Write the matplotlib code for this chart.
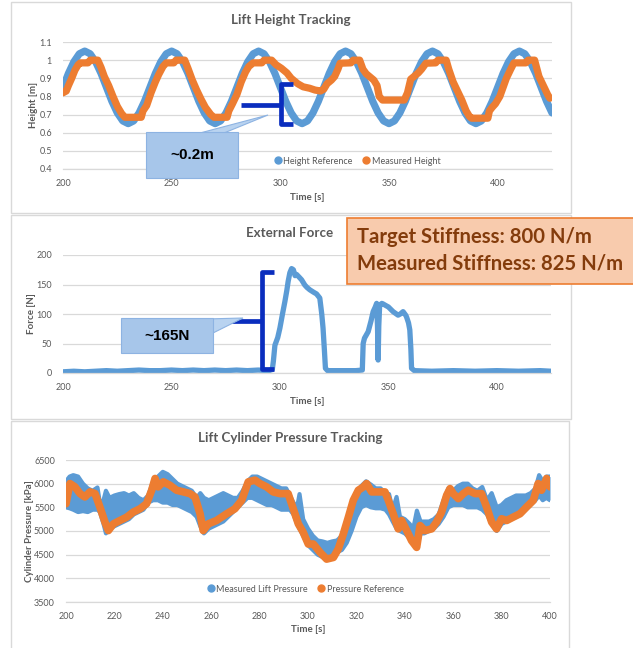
import numpy as np
import matplotlib
matplotlib.use("Agg")
import matplotlib.pyplot as plt
from matplotlib.transforms import Affine2D
from matplotlib.patches import Rectangle, Polygon
from matplotlib.lines import Line2D

plt.rcParams['font.family'] = ['Lato', 'DejaVu Sans']

BLUE = '#5B9BD5'
ORANGE = '#ED7D31'
GRID = '#D9D9D9'
TXT = '#595959'
BRACE = '#0A2DBE'

# ---------------- Lift height tracking ----------------
height_time = np.arange(200.0, 425.1, 2.5)
height_ref = [
    0.850, 0.927, 0.991, 1.035, 1.050, 1.035, 0.991, 0.927, 0.850, 0.773, 0.709, 0.665, 0.650, 0.665, 0.709, 0.773,
    0.850, 0.927, 0.991, 1.035, 1.050, 1.035, 0.991, 0.927, 0.850, 0.773, 0.709, 0.665, 0.650, 0.665, 0.709, 0.773,
    0.850, 0.927, 0.991, 1.035, 1.050, 1.035, 0.991, 0.927, 0.850, 0.773, 0.709, 0.665, 0.650, 0.665, 0.709, 0.773,
    0.850, 0.927, 0.991, 1.035, 1.050, 1.035, 0.991, 0.927, 0.850, 0.773, 0.709, 0.665, 0.650, 0.665, 0.709, 0.773,
    0.850, 0.927, 0.991, 1.035, 1.050, 1.035, 0.991, 0.927, 0.850, 0.773, 0.709, 0.665, 0.650, 0.665, 0.709, 0.773,
    0.850, 0.927, 0.991, 1.035, 1.050, 1.035, 0.991, 0.927, 0.850, 0.773, 0.709,
]
meas_time = [
    200, 201.5, 202.5, 204, 205.5, 207, 208, 211.5, 212.5, 216, 217.5, 219, 221, 223, 225, 227, 228.5, 236,
    236.8, 238.5, 240.5, 242.5, 244, 246, 247.5, 251, 252, 256, 257.5, 259.5, 261.5, 263.5, 265.5, 268, 269.5,
    275.5, 276.3, 278, 280, 282, 284, 285.5, 287.5, 291.5, 292.5, 296, 298, 300.5, 303, 305, 308, 310.5, 313.5,
    316, 318.5, 320, 321.5, 323.5, 325, 326.5, 327.5, 332.5, 333.5, 336.5, 338, 339.5, 341, 343, 344.5, 345.5,
    347, 357, 358.5, 360, 361.5, 363.5, 365, 367, 371.5, 372.5, 376.3, 377.5, 379.5, 381.5, 383.5, 385.5, 387,
    388, 395.5, 396.2, 397.5, 399, 401, 402.5, 404, 406, 407.5, 413, 414, 417, 419, 421, 423, 424,
]
meas_height = [
    0.82, 0.83, 0.86, 0.90, 0.945, 0.975, 0.985, 0.985, 1.0, 1.0, 0.96, 0.91, 0.86, 0.80, 0.745, 0.705, 0.685, 0.685,
    0.72, 0.75, 0.82, 0.88, 0.92, 0.965, 0.985, 0.985, 1.0, 1.0, 0.955, 0.89, 0.835, 0.785, 0.74, 0.70, 0.685,
    0.685, 0.72, 0.76, 0.81, 0.88, 0.935, 0.965, 0.985, 0.985, 1.0, 1.0, 0.975, 0.955, 0.93, 0.90, 0.87, 0.853, 0.845,
    0.835, 0.83, 0.84, 0.87, 0.89, 0.91, 0.95, 0.983, 0.985, 1.0, 1.0, 0.95, 0.925, 0.91, 0.89, 0.86, 0.80,
    0.78, 0.78, 0.82, 0.895, 0.91, 0.93, 0.95, 0.983, 0.985, 1.0, 1.0, 0.95, 0.88, 0.83, 0.78, 0.72, 0.69,
    0.68, 0.68, 0.72, 0.74, 0.76, 0.80, 0.85, 0.90, 0.95, 0.985, 0.985, 1.0, 1.0, 0.91, 0.86, 0.81, 0.79,
]
height_yticks = [0.4, 0.5, 0.6, 0.7, 0.8, 0.9, 1.0, 1.1]
height_ylabels = ['0.4', '0.5', '0.6', '0.7', '0.8', '0.9', '1', '1.1']
time_ticks_top = [200, 250, 300, 350, 400]

# ---------------- External force ----------------
force_time = [
    200, 205, 210, 215, 220, 225, 230, 235, 240, 245, 250, 255, 260, 265, 270, 275, 280, 285, 290, 295,
    296.5, 297, 297.7, 299, 300, 301.2, 302.3, 303.2, 303.8, 304.6, 305.4, 306.2, 307, 307.7, 309, 310,
    311.5, 312.5, 313.8, 315.5, 316.9, 318.4, 319.3, 319.9, 320.5, 321, 322, 325, 330, 335, 338, 338.4,
    339, 340.7, 342, 343, 344, 344.6, 345, 345.3, 345.6, 346, 347, 347.6, 349, 350, 352.2, 354.5, 355.5,
    356.8, 358, 358.4, 359.3, 359.9, 360.4, 360.7, 362, 370, 380, 390, 400, 410, 420, 425,
]
force_val = [
    2, 3, 2, 3, 4, 3, 4, 5, 4, 4, 5, 4, 5, 4, 5, 4, 5, 4, 5, 4,
    6, 20, 47, 60, 76, 100, 121, 140, 155, 170, 177, 175, 165, 167, 162, 158,
    149, 145, 141, 137, 134, 127, 100, 76, 40, 8, 4, 4, 4, 4, 5, 50,
    59, 70, 88, 104, 112, 118, 80, 22, 80, 115, 118, 117, 114, 112, 104, 98, 100,
    104, 98, 95, 85, 73, 40, 8, 4, 3, 4, 3, 4, 3, 4, 3,
]
force_yticks = [0, 50, 100, 150, 200]

# ---------------- Lift cylinder pressure ----------------
press_ref_time = [
    200, 201.6, 203.7, 205.8, 207.8, 209.9, 212, 214, 216.1, 217.5, 219.6, 222.3, 225.1, 227.8, 230.6, 233.3,
    235.4, 236.8, 238.1, 240.2, 242.9, 245.7, 248.5, 251.2, 253.3, 255.4, 256.7, 258.8, 262.2, 266.4, 269.8,
    272.6, 275.3, 278.1, 280.1, 282.9, 285.6, 288.4, 291.8, 293.9, 296, 298, 300.1, 302.2, 305, 307.7, 310.5,
    312.5, 314.6, 316.7, 318.7, 320.8, 322.9, 324.2, 326.3, 329, 331.8, 333.2, 335.2, 337.3, 338.7, 340.8,
    342.8, 344.9, 346.3, 348.3, 351.1, 353.1, 355.2, 357.3, 358.7, 360, 362.1, 364.2, 366.2, 369, 371.7,
    373.8, 375.9, 377.9, 380, 382.1, 384.8, 387.6, 390.3, 393.1, 395.1, 396.5, 398.6, 400,
]
press_ref = [
    5577, 6003, 5932, 5790, 5719, 5826, 5790, 5506, 5187, 5009, 5151, 5222, 5293, 5400, 5470, 5577,
    5861, 6110, 5932, 6038, 5968, 5861, 5826, 5790, 5719, 5364, 5009, 5151, 5222, 5364, 5470,
    5648, 6038, 6074, 6003, 5932, 5826, 5790, 5790, 5470, 5151, 4974, 4725, 4725, 4548, 4406, 4441,
    4619, 4938, 5293, 5648, 5861, 5932, 6003, 5826, 5826, 5826, 5648, 5364, 5045, 5222, 5009,
    4796, 4654, 5116, 5009, 5045, 5187, 5400, 5755, 5896, 5790, 5684, 5790, 5861, 5790, 5790,
    5506, 5187, 5045, 5258, 5222, 5293, 5364, 5506, 5648, 6003, 5861, 6110, 5932,
]
press_meas_time = [
    200, 201.5, 203, 205, 207, 209, 211, 213, 214, 215.5, 216.5, 218, 220, 222, 224, 226, 228, 230, 232,
    234, 236, 238, 240, 242, 244, 246, 248, 250, 252, 254, 255.5, 257, 259, 261, 263, 265, 267, 269, 271,
    273, 275, 277, 279, 281, 283, 285, 287, 289, 291, 292.5, 294, 295.5, 296.5, 298, 300, 302, 304, 306,
    308, 310, 312, 314, 316, 318, 320, 322, 324, 326, 328, 330, 332, 333.5, 335, 336.6, 338, 340, 342,
    343.5, 345, 346.5, 348, 350, 352, 354, 356, 358, 360, 362, 364, 366, 368, 370, 372, 374, 375.9, 378,
    380, 382, 384, 386, 388, 390, 392, 394, 395.5, 397, 398.5, 400,
]
press_meas_low = [
    5500, 5480, 5450, 5400, 5420, 5400, 5450, 5450, 5400, 5150, 4950, 5050, 5100, 5150, 5200, 5250, 5350, 5400, 5450,
    5600, 5650, 5650, 5600, 5600, 5550, 5550, 5500, 5450, 5400, 5300, 5100, 4950, 5050, 5100, 5150, 5200, 5300, 5400, 5500,
    5600, 5700, 5700, 5650, 5600, 5550, 5550, 5500, 5450, 5450, 5450, 5350, 5150, 5050, 4900, 4700, 4600, 4500, 4450,
    4420, 4430, 4550, 4600, 4750, 5000, 5300, 5500, 5550, 5500, 5480, 5480, 5450, 5350, 5200, 5050, 5000, 4950, 4850,
    4750, 4650, 4950, 4950, 5000, 5050, 5150, 5300, 5500, 5550, 5550, 5550, 5500, 5500, 5500, 5450, 5350, 5150, 5000,
    5150, 5200, 5250, 5300, 5350, 5450, 5550, 5650, 5750, 5650, 5700, 5650,
]
press_meas_high = [
    6050, 6150, 6180, 6150, 6000, 5900, 5850, 5920, 5600, 5650, 5850, 5700, 5750, 5780, 5800, 5750, 5800, 5700, 5650,
    5750, 6050, 6150, 6250, 6200, 6100, 6000, 5950, 5900, 5850, 5700, 5800, 5700, 5650, 5700, 5750, 5800, 5750, 5700, 5700,
    5850, 6050, 6150, 6150, 6100, 6050, 6000, 5950, 5900, 5900, 5750, 5600, 5500, 5780, 5250, 5050, 4900, 4800, 4780,
    4750, 4780, 4800, 4900, 5100, 5450, 5750, 5950, 6050, 5980, 5900, 5900, 5800, 5780, 5450, 5720, 5300, 5250, 5150,
    5050, 5430, 5200, 5200, 5200, 5250, 5350, 5650, 5900, 5850, 5950, 6000, 6000, 5900, 5850, 5930, 5650, 5800, 5500,
    5550, 5650, 5700, 5750, 5750, 5750, 5800, 5900, 6180, 6050, 6150, 6150,
]
press_yticks = [3500, 4000, 4500, 5000, 5500, 6000, 6500]
time_ticks_bottom = [200, 220, 240, 260, 280, 300, 320, 340, 360, 380, 400]

# ---------------- Figure in pixel units ----------------
W, H = 633, 648
fig = plt.figure(figsize=(W / 100, H / 100), dpi=100)
fig.patch.set_facecolor('white')
px = Affine2D().scale(1 / W, -1 / H).translate(0, 1) + fig.transFigure


def axes_at(left, top, right, bottom):
    return fig.add_axes([left / W, 1 - bottom / H, (right - left) / W, (bottom - top) / H])


def style(ax, xlim, ylim, xticks, yticks, ylabels=None):
    ax.set_xlim(*xlim)
    ax.set_ylim(*ylim)
    ax.set_xticks(xticks)
    ax.set_yticks(yticks)
    if ylabels is not None:
        ax.set_yticklabels(ylabels)
    ax.grid(axis='y', color=GRID, lw=0.9)
    ax.set_axisbelow(True)
    for s in ('left', 'right', 'top'):
        ax.spines[s].set_visible(False)
    ax.spines['bottom'].set_color(GRID)
    ax.spines['bottom'].set_linewidth(0.9)
    ax.tick_params(axis='both', length=0, labelsize=6.5, labelcolor=TXT)
    ax.tick_params(axis='x', pad=7.5)
    ax.tick_params(axis='y', pad=8)


def frame(l, t, r, b):
    fig.add_artist(Rectangle((l, t), r - l, b - t, transform=px, fill=False,
                             edgecolor=GRID, lw=1.0, zorder=0))


def label(x, y, s, size, weight='bold', rot=0, color=TXT, **kw):
    fig.text(x, y, s, transform=px, ha='center', va='center', fontsize=size,
             fontweight=weight, rotation=rot, color=color, **kw)


line_kw = dict(solid_capstyle='round', solid_joinstyle='round')

# Panel frames
frame(11, 2, 571, 213)
frame(11, 215, 571, 419)
frame(11, 421, 569, 660)

# --- Panel 1
ax1 = axes_at(63, 42, 552, 169)
style(ax1, (200, 425), (0.4, 1.1), time_ticks_top, height_yticks, height_ylabels)
ax1.plot(height_time, height_ref, color=BLUE, lw=5.2, **line_kw)
ax1.plot(meas_time, meas_height, color=ORANGE, lw=5.2, **line_kw)
label(291, 20, 'Lift Height Tracking', 9.6)
label(307, 197, 'Time [s]', 7)
label(33, 105, 'Height [m]', 7, rot=90)
h1 = [Line2D([], [], marker='o', ls='none', color=BLUE, markersize=5),
      Line2D([], [], marker='o', ls='none', color=ORANGE, markersize=5)]
fig.legend(h1, ['Height Reference', 'Measured Height'], loc='center',
           bbox_to_anchor=(357, 161), bbox_transform=px, ncol=2, frameon=False,
           fontsize=6.5, labelcolor=TXT, handletextpad=0.1, columnspacing=1.0,
           handlelength=1.0, borderpad=0)

# --- Panel 2
ax2 = axes_at(63, 255, 551, 373)
style(ax2, (200, 425), (0, 200), time_ticks_top, force_yticks)
ax2.plot(force_time, force_val, color=BLUE, lw=3.8, **line_kw)
label(290, 233, 'External Force', 9.6)
label(307, 402, 'Time [s]', 7)
label(31, 314, 'Force [N]', 7, rot=90)

# --- Panel 3
ax3 = axes_at(66, 460, 550, 602)
style(ax3, (200, 400), (3500, 6500), time_ticks_bottom, press_yticks)
ax3.fill_between(press_meas_time, press_meas_low, press_meas_high, color=BLUE, lw=0)
ax3.plot(press_meas_time, press_meas_low, color=BLUE, lw=3, **line_kw)
ax3.plot(press_meas_time, press_meas_high, color=BLUE, lw=3, **line_kw)
ax3.plot(press_ref_time, press_ref, color=ORANGE, lw=5.5, **line_kw)
label(290, 438, 'Lift Cylinder Pressure Tracking', 9.6)
label(308, 630, 'Time [s]', 7)
label(30, 531, 'Cylinder Pressure [kPa]', 7, rot=90)
h3 = [Line2D([], [], marker='o', ls='none', color=BLUE, markersize=5),
      Line2D([], [], marker='o', ls='none', color=ORANGE, markersize=5)]
fig.legend(h3, ['Measured Lift Pressure', 'Pressure Reference'], loc='center',
           bbox_to_anchor=(305, 589), bbox_transform=px, ncol=2, frameon=False,
           fontsize=6.5, labelcolor=TXT, handletextpad=0.1, columnspacing=1.0,
           handlelength=1.0, borderpad=0)

# --- Brackets
brace_kw = dict(transform=px, color=BRACE, lw=3.4, solid_capstyle='butt', solid_joinstyle='round', zorder=5)
fig.add_artist(Line2D([293, 281, 281, 293], [84, 84, 124, 124], **brace_kw))
fig.add_artist(Line2D([241, 281], [105, 105], **brace_kw))
fig.add_artist(Line2D([274, 262, 262, 274], [272, 272, 369, 369], **brace_kw))
fig.add_artist(Line2D([227, 262], [321, 321], **brace_kw))

# --- Callouts
callout_fill = '#A7C6EA'
callout_edge = '#8DB3E2'
fig.add_artist(Polygon([(200, 133), (268, 115), (224, 133)], closed=True, transform=px,
                       facecolor='#B9D3F0', edgecolor=callout_edge, lw=0.8, zorder=6))
fig.add_artist(Rectangle((146, 132), 92, 46, transform=px, facecolor=callout_fill,
                         edgecolor=callout_edge, lw=0.8, zorder=6))
label(192, 155, '~0.2m', 11, color='black', family=['Liberation Sans', 'DejaVu Sans'], zorder=7)

fig.add_artist(Polygon([(205, 319), (243, 318), (213, 333)], closed=True, transform=px,
                       facecolor='#B9D3F0', edgecolor=callout_edge, lw=0.8, zorder=6))
fig.add_artist(Rectangle((121, 318), 92, 35, transform=px, facecolor=callout_fill,
                         edgecolor=callout_edge, lw=0.8, zorder=6))
label(167, 336, '~165N', 11, color='black', family=['Liberation Sans', 'DejaVu Sans'], zorder=7)

# --- Stiffness note
fig.add_artist(Rectangle((347, 218), 300, 66, transform=px, facecolor='#F8CBAD',
                         edgecolor=ORANGE, lw=1.2, zorder=6))
fig.text(357, 237, 'Target Stiffness: 800 N/m', transform=px, ha='left', va='center',
         fontsize=14.6, fontweight='bold', color='#843C0C', zorder=7)
fig.text(357, 264, 'Measured Stiffness: 825 N/m', transform=px, ha='left', va='center',
         fontsize=14.6, fontweight='bold', color='#843C0C', zorder=7)

fig.savefig('out.png', dpi=100, facecolor='white')
